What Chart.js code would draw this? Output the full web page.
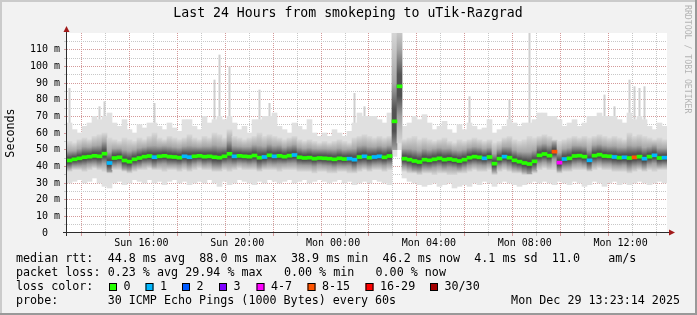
<!DOCTYPE html>
<html>
<head>
<meta charset="utf-8">
<script src="https://cdn.jsdelivr.net/npm/chart.js@4.4.1/dist/chart.umd.min.js"></script>
<style>
  html, body { margin: 0; padding: 0; background: #f2f2f2; }
  canvas { display: block; }
</style>
</head>
<body>
<canvas id="grafico" width="697" height="315"></canvas>
<script>
// 24 hours, Sun 13:25 -> Mon 13:25, one slot every 12 minutes (120 slots)
let startHour = 13 + 25 / 60;
let endHour = startHour + 24;

let median = [
  43.5, 44.2, 44.8, 45.5, 45.8, 46.3, 46.0, 47.6, 42.0, 45.0,
  45.4, 43.5, 42.8, 44.2, 45.0, 45.8, 46.2, 45.5, 46.0, 46.3,
  45.8, 45.6, 45.2, 46.0, 45.5, 46.0, 46.3, 45.8, 46.0, 45.5,
  45.2, 46.0, 47.5, 46.0, 46.3, 46.0, 45.8, 46.5, 45.2, 45.6,
  46.6, 46.0, 46.3, 45.8, 46.4, 46.8, 45.4, 45.0, 45.2, 44.6,
  45.0, 44.8, 44.6, 44.2, 44.8, 44.4, 44.6, 44.0, 45.6, 46.0,
  45.2, 45.6, 46.0, 45.4, 46.2, 67.0, 88.0, 44.6, 44.0, 43.2,
  42.6, 44.0, 43.6, 44.2, 44.8, 44.0, 44.4, 43.8, 43.2, 44.0,
  45.2, 45.8, 45.4, 44.8, 45.6, 41.6, 44.6, 45.8, 45.2, 43.6,
  42.8, 42.0, 41.4, 43.0, 46.6, 47.4, 46.4, 48.8, 42.2, 44.4,
  44.8, 46.2, 46.4, 45.8, 43.6, 46.4, 47.0, 46.2, 46.0, 45.6,
  45.2, 45.4, 45.0, 45.4, 45.8, 44.6, 45.8, 46.6, 45.0, 45.2
];

// lost pings (of 30) per slot
let loss = [
  0, 0, 0, 0, 0, 0, 0, 0, 1, 0,
  0, 0, 0, 0, 0, 0, 0, 1, 0, 0,
  0, 0, 0, 1, 1, 0, 0, 0, 0, 0,
  0, 0, 0, 1, 0, 0, 0, 0, 0, 1,
  0, 1, 0, 0, 0, 1, 0, 0, 0, 0,
  0, 0, 0, 0, 0, 0, 1, 1, 0, 1,
  0, 1, 1, 0, 0, 0, 0, 0, 0, 0,
  0, 0, 0, 0, 0, 0, 0, 0, 0, 0,
  0, 0, 0, 1, 0, 0, 0, 1, 0, 0,
  0, 0, 0, 0, 0, 0, 0, 10, 5, 1,
  0, 0, 0, 0, 1, 0, 0, 0, 0, 1,
  0, 1, 0, 10, 0, 1, 0, 1, 0, 1
];

let smokeMin = [
  30, 31, 32, 30, 31, 33, 30, 28, 27, 30,
  31, 29, 30, 32, 31, 30, 32, 30, 31, 29,
  31, 32, 30, 31, 29, 30, 31, 30, 32, 30,
  28, 31, 29, 30, 32, 31, 30, 29, 31, 30,
  32, 31, 30, 31, 32, 30, 31, 32, 30, 31,
  32, 31, 30, 31, 32, 30, 31, 29, 30, 31,
  30, 32, 31, 30, 29, 46, 50, 33, 31, 30,
  29, 28, 29, 30, 28, 29, 30, 27, 28, 29,
  28, 30, 29, 31, 30, 28, 30, 31, 30, 29,
  28, 29, 30, 31, 30, 31, 30, 29, 31, 30,
  29, 31, 30, 28, 29, 31, 30, 28, 30, 31,
  29, 30, 29, 30, 31, 30, 29, 30, 31, 30
];

// upper edge of the dense light smoke
let smokeMax = [
  66, 62, 60, 64, 66, 70, 68, 70, 72, 66,
  64, 68, 62, 60, 65, 63, 66, 66, 64, 62,
  66, 63, 61, 68, 68, 64, 62, 70, 66, 68,
  70, 68, 70, 66, 62, 64, 60, 68, 68, 70,
  70, 72, 64, 62, 60, 66, 64, 62, 68, 60,
  58, 60, 58, 62, 60, 58, 61, 66, 72, 70,
  70, 70, 68, 66, 72, 125, 125, 64, 66, 70,
  68, 71, 66, 62, 64, 67, 62, 60, 65, 62,
  66, 64, 62, 63, 68, 60, 62, 64, 68, 66,
  64, 66, 66, 68, 72, 72, 70, 70, 68, 64,
  66, 68, 64, 66, 70, 70, 72, 70, 70, 70,
  68, 66, 72, 68, 70, 68, 64, 62, 66, 64
];

// single tall pings (thin streaks), null where none
let peakMax = [
  87, null, null, null, null, null, 76, 79, null, null,
  null, null, null, null, null, null, null, 78, null, null,
  null, null, null, null, null, null, null, null, null, 92,
  107, null, 100, null, null, null, null, null, 86, null,
  78, null, null, null, null, null, null, null, null, null,
  null, null, null, null, null, null, null, 84, null, 76,
  null, null, null, null, null, null, null, null, null, null,
  null, null, null, null, null, null, null, null, null, null,
  82, null, null, null, null, null, null, null, 80, null,
  null, null, 120, null, null, null, null, null, null, null,
  null, null, null, null, null, null, null, 83, null, 76,
  null, null, 92, 88, 87, 88, null, null, null, null
];

let innerLo = [
  37, 38, 38, 37, 38, 39, 38, 37, 36, 38,
  38, 37, 36, 37, 38, 38, 39, 38, 38, 37,
  38, 38, 37, 38, 37, 38, 39, 38, 38, 37,
  37, 38, 37, 38, 39, 38, 38, 38, 37, 38,
  38, 38, 37, 38, 38, 38, 37, 37, 37, 36,
  37, 37, 36, 36, 37, 37, 36, 36, 37, 38,
  37, 38, 38, 37, 38, 50, 54, 37, 36, 36,
  35, 36, 36, 35, 36, 36, 35, 35, 36, 36,
  37, 38, 37, 37, 38, 35, 37, 38, 37, 36,
  36, 35, 35, 36, 38, 39, 38, 38, 36, 37,
  37, 38, 38, 38, 37, 38, 39, 38, 38, 37,
  37, 37, 36, 37, 38, 37, 38, 37, 38, 38
];

let innerHi = [
  55, 54, 56, 57, 56, 58, 59, 60, 57, 56,
  55, 57, 56, 55, 57, 56, 58, 60, 57, 56,
  58, 57, 56, 57, 59, 57, 56, 58, 57, 60,
  59, 57, 62, 58, 57, 56, 57, 58, 60, 58,
  59, 58, 57, 56, 57, 58, 56, 55, 56, 55,
  54, 55, 54, 55, 56, 55, 54, 57, 58, 59,
  58, 57, 58, 57, 58, 122, 125, 56, 57, 58,
  56, 57, 56, 55, 56, 57, 55, 54, 56, 55,
  56, 57, 56, 55, 56, 54, 55, 57, 58, 56,
  55, 56, 58, 57, 58, 59, 58, 56, 55, 56,
  57, 58, 57, 58, 57, 58, 59, 58, 57, 58,
  57, 56, 60, 58, 59, 58, 57, 56, 57, 56
];

let xTickHours = [16, 20, 24, 28, 32, 36];
let xTickLabels = ["Sun 16:00", "Sun 20:00", "Mon 00:00", "Mon 04:00", "Mon 08:00", "Mon 12:00"];

let lossLabels = ["0", "1", "2", "3", "4-7", "8-15", "16-29", "30/30"];
let lossColors = ["#26ff00", "#00b8ff", "#0059ff", "#7e00ff", "#ff00ff", "#ff5500", "#ff0000", "#a10000"];

let rttStats = ["44.8 ms avg", "88.0 ms max", "38.9 ms min", "46.2 ms now", "4.1 ms sd", "11.0", "am/s"];
let lossStats = ["0.23 % avg", "29.94 % max", "0.00 % min", "0.00 % now"];

let MONO = '"DejaVu Sans Mono", monospace';
let CW = 7.05; // legend character width
let GRID = "#c8c8c8";
let MGRID = "#d49a9a";

function lossColor(n) {
  if (n === 0) return lossColors[0];
  if (n === 1) return lossColors[1];
  if (n === 2) return lossColors[2];
  if (n === 3) return lossColors[3];
  if (n <= 7) return lossColors[4];
  if (n <= 15) return lossColors[5];
  if (n <= 29) return lossColors[6];
  return lossColors[7];
}

function smokeFill(c) {
  let ch = c.chart;
  let y = ch.scales.y;
  let i = c.dataIndex;
  if (!y || i === undefined) return "#999999";
  let top = y.getPixelForValue(innerHi[i]);
  let bot = y.getPixelForValue(innerLo[i]);
  let h = bot - top;
  if (!isFinite(top) || !isFinite(bot) || !(h > 0)) return "#999999";
  let clamp = p => Math.min(1, Math.max(0, p));
  let m = clamp((y.getPixelForValue(median[i]) - top) / h);
  let g = ch.ctx.createLinearGradient(0, top, 0, bot);
  g.addColorStop(0, "#d8d8d8");
  g.addColorStop(clamp(m - 0.32), "#a8a8a8");
  g.addColorStop(clamp(m - 0.1), "#545454");
  g.addColorStop(clamp(m + 0.08), "#505050");
  g.addColorStop(clamp(m + 0.25), "#a0a0a0");
  g.addColorStop(1, "#d6d6d6");
  return g;
}

let gridHours = [];
for (let h = Math.ceil(startHour); h <= endHour; h++) gridHours.push(h);

let slots = median.map((v, i) => i);

let decor = {
  id: "decor",
  beforeDraw(chart) {
    let ctx = chart.ctx;
    ctx.save();
    ctx.fillStyle = "#f2f2f2";
    ctx.fillRect(0, 0, 697, 315);
    ctx.fillStyle = "#cbcbcb";
    ctx.fillRect(0, 0, 697, 2);
    ctx.fillRect(0, 0, 2, 315);
    ctx.fillStyle = "#999999";
    ctx.fillRect(0, 313, 697, 2);
    ctx.fillRect(695, 0, 2, 315);
    let a = chart.chartArea;
    ctx.fillStyle = "#ffffff";
    ctx.fillRect(a.left, a.top, a.right - a.left, a.bottom - a.top);
    ctx.restore();
  },
  afterDraw(chart) {
    let ctx = chart.ctx;
    let a = chart.chartArea;
    ctx.save();

    // axes with arrows
    ctx.strokeStyle = "#2c2c2c";
    ctx.lineWidth = 1;
    ctx.beginPath();
    ctx.moveTo(a.left - 0.5, a.bottom + 3);
    ctx.lineTo(a.left - 0.5, a.top - 4);
    ctx.moveTo(a.left - 4, a.bottom - 0.5);
    ctx.lineTo(a.right + 3, a.bottom - 0.5);
    ctx.stroke();
    ctx.fillStyle = "#a11a1a";
    ctx.beginPath();
    ctx.moveTo(a.left - 0.5, a.top - 7);
    ctx.lineTo(a.left - 3.5, a.top - 1);
    ctx.lineTo(a.left + 2.5, a.top - 1);
    ctx.closePath();
    ctx.fill();
    ctx.beginPath();
    ctx.moveTo(a.right + 8, a.bottom - 0.5);
    ctx.lineTo(a.right + 2, a.bottom - 3.5);
    ctx.lineTo(a.right + 2, a.bottom + 2.5);
    ctx.closePath();
    ctx.fill();

    // title
    ctx.fillStyle = "#000";
    ctx.textBaseline = "middle";
    ctx.textAlign = "center";
    ctx.font = "13.2px " + MONO;
    ctx.fillText("Last 24 Hours from smokeping to uTik-Razgrad", 348, 14);

    // y title
    ctx.font = "11.7px " + MONO;
    ctx.save();
    ctx.translate(10.5, 133);
    ctx.rotate(-Math.PI / 2);
    ctx.fillText("Seconds", 0, 0);
    ctx.restore();

    // watermark
    ctx.save();
    ctx.fillStyle = "#b4b4b4";
    ctx.font = "8.2px " + MONO;
    ctx.textAlign = "left";
    ctx.translate(687, 5);
    ctx.rotate(Math.PI / 2);
    ctx.fillText("RRDTOOL / TOBI OETIKER", 0, 0);
    ctx.restore();

    // legend, laid out on a character grid
    ctx.textAlign = "left";
    ctx.font = "11.7px " + MONO;
    let col = n => 16 + n * CW;
    let rttCols = [13, 26, 39, 52, 65, 76, 84];
    ctx.fillText("median rtt:", col(0), 259);
    rttStats.forEach((t, i) => ctx.fillText(t, col(rttCols[i]), 259));

    let lossCols = [13, 24, 38, 51];
    ctx.fillText("packet loss:", col(0), 273);
    lossStats.forEach((t, i) => ctx.fillText(t, col(lossCols[i]), 273));

    let boxX = [109, 145.5, 182, 219, 256.5, 307.5, 365.5, 430];
    ctx.fillText("loss color:", col(0), 287);
    lossLabels.forEach((t, i) => {
      ctx.fillStyle = lossColors[i];
      ctx.fillRect(boxX[i], 283, 8, 8);
      ctx.strokeStyle = "#000";
      ctx.strokeRect(boxX[i] + 0.5, 283.5, 7, 7);
      ctx.fillStyle = "#000";
      ctx.fillText(t, boxX[i] + 14.5, 287);
    });

    ctx.fillText("probe:", col(0), 301);
    ctx.fillText("30 ICMP Echo Pings (1000 Bytes) every 60s", col(13), 301);
    ctx.textAlign = "right";
    ctx.fillText("Mon Dec 29 13:23:14 2025", 680, 301);

    ctx.restore();
  }
};

new Chart(document.getElementById("grafico"), {
  type: "bar",
  data: {
    labels: slots,
    datasets: [
      {
        label: "median",
        data: median.map(v => [v - 0.9, v + 0.9]),
        backgroundColor: loss.map(n => lossColor(n)),
        xAxisID: "xb",
        yAxisID: "y",
        order: 1
      },
      {
        label: "smoke",
        data: innerLo.map((v, i) => [v, innerHi[i]]),
        backgroundColor: smokeFill,
        xAxisID: "xb",
        yAxisID: "y",
        order: 2
      },
      {
        label: "range",
        data: smokeMin.map((v, i) => [v, smokeMax[i]]),
        backgroundColor: "#e0e0e0",
        xAxisID: "xb",
        yAxisID: "y",
        order: 3
      },
      {
        label: "peaks",
        data: peakMax.map((v, i) => (v === null ? null : [smokeMax[i], v])),
        backgroundColor: "#cfcfcf",
        barPercentage: 0.4,
        xAxisID: "xb",
        yAxisID: "y",
        order: 4
      }
    ]
  },
  options: {
    responsive: false,
    animation: false,
    devicePixelRatio: 1,
    layout: { padding: { top: 33, right: 30, left: 0, bottom: 0 } },
    datasets: {
      bar: { grouped: false, barPercentage: 1, categoryPercentage: 1, borderWidth: 0 }
    },
    plugins: {
      legend: { display: false },
      title: { display: false },
      tooltip: { enabled: false }
    },
    scales: {
      xb: {
        type: "category",
        position: "bottom",
        display: false,
        offset: true
      },
      x: {
        type: "linear",
        position: "bottom",
        min: startHour,
        max: endHour,
        z: 1,
        afterBuildTicks: s => { s.ticks = gridHours.map(v => ({ value: v })); },
        afterFit: s => { s.height = 82; },
        border: { display: false, dash: [1, 1] },
        grid: {
          color: c => (c.tick && c.tick.value % 2 === 0 ? MGRID : GRID),
          tickLength: 3,
          tickBorderDash: [3, 0]
        },
        ticks: {
          autoSkip: false,
          maxRotation: 0,
          minRotation: 0,
          padding: 1,
          color: "#000",
          font: { family: MONO, size: 10 },
          callback: v => {
            let k = xTickHours.indexOf(v);
            return k >= 0 ? xTickLabels[k] : "";
          }
        }
      },
      y: {
        type: "linear",
        min: 0,
        max: 120,
        z: 1,
        afterFit: s => { s.width = 67; },
        border: { display: false, dash: [1, 1] },
        grid: {
          color: c => {
            let v = c.tick ? c.tick.value : 0;
            if (v === 0 || v === 120) return "rgba(0,0,0,0)";
            return v % 10 === 0 ? MGRID : GRID;
          },
          tickLength: 3,
          tickBorderDash: [3, 0]
        },
        ticks: {
          stepSize: 5,
          autoSkip: false,
          padding: 4,
          color: "#000",
          font: { family: MONO, size: 10 },
          callback: v => {
            if (v === 0) return "0  ";
            if (v % 10 === 0 && v < 120) return v + " m";
            return "";
          }
        }
      }
    }
  },
  plugins: [decor]
});
</script>
</body>
</html>
